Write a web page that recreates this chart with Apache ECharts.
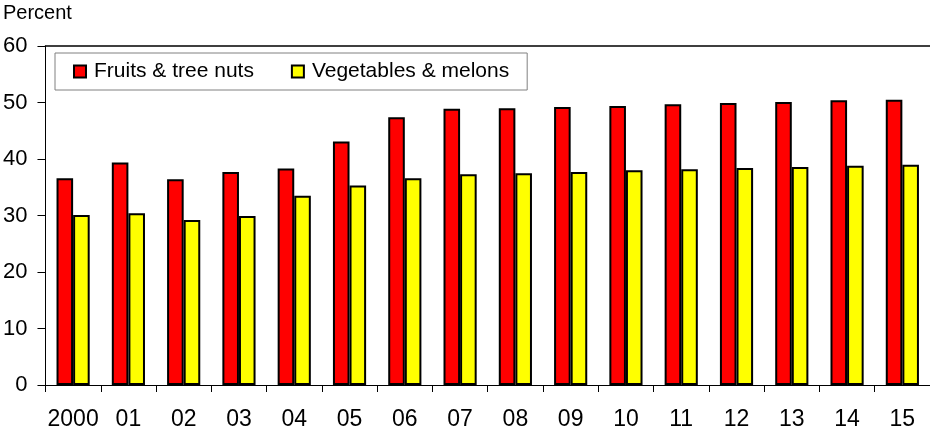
<!DOCTYPE html>
<html>
<head>
<meta charset="utf-8">
<script src="https://cdn.jsdelivr.net/npm/echarts@6/dist/echarts.min.js"></script>
<style>
  html, body { margin: 0; padding: 0; background: #fff; }
  #chart { width: 930px; height: 433px; }
</style>
</head>
<body>
<div id="chart"></div>
<script>
// Share of consumption, percent, by year
const years = ['2000', '01', '02', '03', '04', '05', '06', '07', '08', '09', '10', '11', '12', '13', '14', '15'];
const fruitsNuts = [36.6, 39.4, 36.4, 37.7, 38.3, 43.1, 47.4, 48.9, 49.0, 49.2, 49.4, 49.7, 49.9, 50.1, 50.4, 50.5];
const vegMelons = [30.1, 30.4, 29.2, 29.9, 33.5, 35.3, 36.6, 37.3, 37.5, 37.7, 38.0, 38.2, 38.4, 38.6, 38.8, 39.0];
const yTicks = [0, 10, 20, 30, 40, 50, 60];

const FONT = '"Liberation Sans", Arial, sans-serif';
const chart = echarts.init(document.getElementById('chart'), null, { renderer: 'canvas' });

chart.setOption({
  animation: false,
  backgroundColor: '#fff',
  textStyle: { fontFamily: FONT, color: '#000' },
  graphic: [{
    type: 'text', left: 3, top: 3,
    style: { text: 'Percent', font: '20px ' + FONT, fill: '#000' }
  }],
  grid: { left: 44, right: 0, top: 46, bottom: 48, containLabel: false },
  legend: {
    left: 55, top: 53,
    padding: [8, 18, 8, 18],
    backgroundColor: '#fff',
    borderColor: '#808080', borderWidth: 1,
    itemWidth: 12, itemHeight: 12, itemGap: 37,
    icon: 'rect',
    textStyle: { fontFamily: FONT, fontSize: 21, color: '#000', padding: [0, 0, 0, 3] },
    data: ['Fruits & tree nuts', 'Vegetables & melons']
  },
  xAxis: [{
    type: 'category', data: years, position: 'bottom',
    axisLine: { lineStyle: { color: '#000', width: 1 } },
    axisTick: { show: true, length: 7, interval: 0, lineStyle: { color: '#000' } },
    axisLabel: { fontFamily: FONT, fontSize: 23, color: '#000', margin: 23, interval: 0 }
  }, {
    type: 'category', data: years, position: 'top',
    axisLine: { show: true, lineStyle: { color: '#000', width: 1.5 } },
    axisTick: { show: false }, axisLabel: { show: false }
  }],
  yAxis: {
    type: 'value', min: yTicks[0], max: yTicks[yTicks.length - 1], interval: 10,
    axisLine: { show: true, lineStyle: { color: '#000', width: 1 } },
    axisTick: { show: true, length: 8, lineStyle: { color: '#000' } },
    axisLabel: { fontFamily: FONT, fontSize: 22, color: '#000', margin: 18 },
    splitLine: { show: false }
  },
  series: [{
    name: 'Fruits & tree nuts', type: 'bar', data: fruitsNuts,
    barWidth: '30%', barGap: '0%',
    itemStyle: { color: '#ff0000', borderColor: '#000', borderWidth: 2 }
  }, {
    name: 'Vegetables & melons', type: 'bar', data: vegMelons,
    barWidth: '30%', barGap: '0%',
    itemStyle: { color: '#ffff00', borderColor: '#000', borderWidth: 2 }
  }]
});
</script>
</body>
</html>
